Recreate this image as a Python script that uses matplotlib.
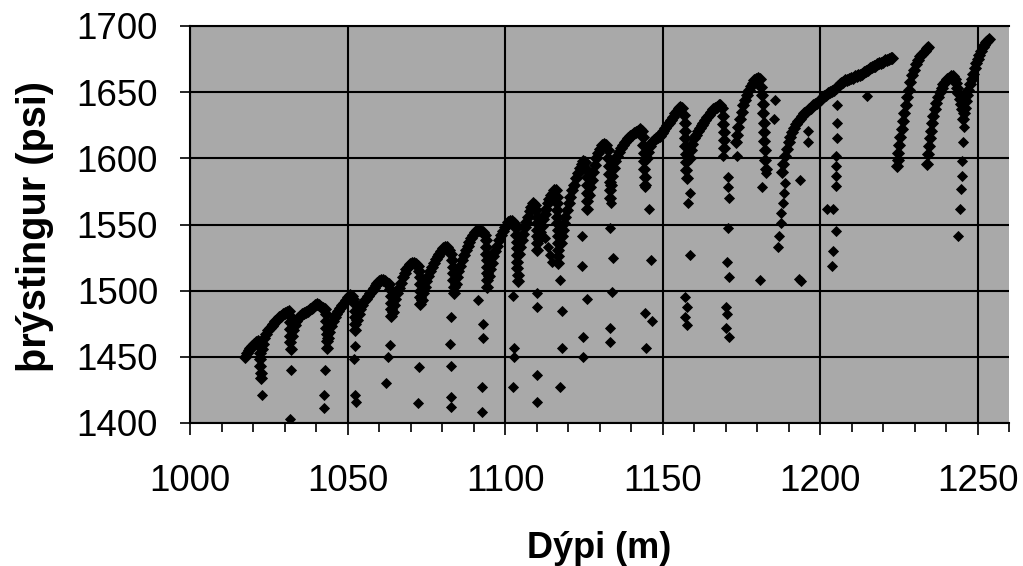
import matplotlib
matplotlib.use("Agg")
import matplotlib.pyplot as plt
from matplotlib.ticker import MultipleLocator

# Main pressure build-up trace (depth m, pressure psi)
trace_depth = [
    1017.5, 1018.0, 1018.6, 1019.2, 1019.8, 1020.4, 1021.0, 1021.5, 1022.0, 1022.1, 1022.2, 1022.3, 1022.4, 1022.5,
    1022.8, 1023.2, 1023.6, 1024.1, 1024.7, 1025.3, 1025.9, 1026.5, 1027.1, 1027.7, 1028.3, 1028.9, 1029.5, 1030.1, 1030.7, 1031.3, 1031.7, 1031.8, 1031.8, 1031.9, 1031.9, 1032.0,
    1032.3, 1032.7, 1033.2, 1033.8, 1034.4, 1035.0, 1035.6, 1036.2, 1036.8, 1037.4, 1038.0, 1038.6, 1039.2, 1039.8, 1040.4, 1041.0, 1041.6, 1042.2, 1042.8, 1043.2, 1043.3, 1043.3, 1043.4, 1043.4, 1043.5,
    1043.8, 1044.2, 1044.7, 1045.3, 1045.9, 1046.5, 1047.1, 1047.7, 1048.3, 1048.9, 1049.5, 1050.1, 1050.7, 1051.3, 1051.9, 1052.3, 1052.4, 1052.4, 1052.5, 1052.5,
    1053.0, 1053.5, 1054.1, 1054.7, 1055.3, 1055.9, 1056.5, 1057.1, 1057.7, 1058.3, 1058.9, 1059.5, 1060.1, 1060.7, 1061.3, 1061.9, 1062.5, 1063.1, 1063.6, 1063.7, 1063.8, 1063.8, 1063.9,
    1064.3, 1064.7, 1065.2, 1065.7, 1066.3, 1066.9, 1067.5, 1068.1, 1068.7, 1069.3, 1069.9, 1070.5, 1071.1, 1071.7, 1072.3, 1072.8, 1072.9, 1073.0, 1073.0, 1073.1, 1073.1,
    1073.6, 1074.0, 1074.5, 1075.0, 1075.6, 1076.2, 1076.8, 1077.4, 1078.0, 1078.6, 1079.2, 1079.8, 1080.4, 1081.0, 1081.6, 1082.2, 1082.8, 1083.2, 1083.4, 1083.5, 1083.6, 1083.7, 1083.8,
    1084.3, 1084.7, 1085.2, 1085.7, 1086.3, 1086.9, 1087.5, 1088.1, 1088.7, 1089.3, 1089.9, 1090.5, 1091.1, 1091.7, 1092.3, 1092.9, 1093.5, 1093.9, 1094.0, 1094.1, 1094.2, 1094.3, 1094.3, 1094.4, 1094.4,
    1094.9, 1095.3, 1095.8, 1096.3, 1096.9, 1097.5, 1098.1, 1098.7, 1099.3, 1099.9, 1100.5, 1101.1, 1101.7, 1102.3, 1102.9, 1103.4, 1103.6, 1103.7, 1103.8, 1103.8, 1103.9, 1103.9, 1104.0, 1104.0,
    1104.5, 1104.9, 1105.3, 1105.8, 1106.3, 1106.8, 1107.3, 1107.8, 1108.3, 1108.9, 1109.5, 1109.9, 1110.0, 1110.0, 1110.1, 1110.1, 1110.2, 1110.2,
    1110.7, 1111.1, 1111.6, 1112.1, 1112.6, 1113.1, 1113.6, 1114.1, 1114.6, 1115.1, 1115.6, 1116.1, 1116.4, 1116.5, 1116.5, 1116.6, 1116.6, 1116.7, 1116.7, 1116.8, 1116.8, 1116.9, 1116.9,
    1117.8, 1118.0, 1118.3, 1118.7, 1119.2, 1119.7, 1120.2, 1120.7, 1121.3, 1121.9, 1122.5, 1123.1, 1123.7, 1124.3, 1124.9, 1125.5, 1125.8, 1125.9, 1125.9, 1126.0, 1126.0, 1126.1,
    1126.6, 1127.0, 1127.5, 1128.0, 1128.5, 1129.0, 1129.6, 1130.2, 1130.8, 1131.4, 1132.0, 1132.6, 1132.8, 1133.0, 1133.1, 1133.2, 1133.3, 1133.4,
    1133.8, 1134.1, 1134.5, 1135.0, 1135.6, 1136.2, 1136.8, 1137.4, 1138.0, 1138.6, 1139.2, 1139.8, 1140.4, 1141.0, 1141.6, 1142.2, 1142.8, 1143.4, 1143.8, 1143.9, 1144.0, 1144.1, 1144.2, 1144.3, 1144.4,
    1145.0, 1145.5, 1146.1, 1146.7, 1147.3, 1147.9, 1148.5, 1149.1, 1149.7, 1150.3, 1150.9, 1151.5, 1152.1, 1152.7, 1153.3, 1153.9, 1154.5, 1155.1, 1155.7, 1156.3, 1156.8, 1157.0, 1157.1, 1157.2, 1157.3, 1157.4, 1157.5, 1157.6, 1157.8,
    1158.6, 1159.0, 1159.5, 1160.0, 1160.6, 1161.2, 1161.8, 1162.4, 1163.0, 1163.6, 1164.2, 1164.8, 1165.4, 1166.0, 1166.6, 1167.2, 1167.8, 1168.4, 1169.0, 1169.2, 1169.3, 1169.4, 1169.5, 1169.6,
    1173.3, 1173.7, 1174.1, 1174.6, 1175.1, 1175.6, 1176.2, 1176.8, 1177.4, 1178.0, 1178.6, 1179.2, 1179.8, 1180.4, 1181.0, 1181.4, 1181.6, 1181.8, 1182.0, 1182.1, 1182.2, 1182.3, 1182.5, 1182.6, 1182.8,
    1188.0, 1188.4, 1188.9, 1189.4, 1190.0, 1190.6, 1191.2, 1191.8, 1192.4, 1193.0, 1193.6, 1194.2, 1194.8, 1195.4, 1196.0, 1196.6, 1197.2, 1197.8, 1198.4, 1199.0,
    1199.6, 1200.2, 1200.8, 1201.4, 1202.0, 1202.6, 1203.2, 1203.8, 1204.4, 1205.0, 1205.6, 1206.2, 1206.8, 1207.4, 1208.0, 1208.6, 1209.2, 1209.8, 1210.4, 1211.0,
    1211.6, 1212.2, 1212.8, 1213.4, 1214.0, 1214.6, 1215.2, 1215.8, 1216.4, 1217.0, 1217.6, 1218.2, 1218.8, 1219.4, 1220.0, 1220.6, 1221.2, 1221.8, 1222.4, 1223.0,
    1224.6, 1224.7, 1224.9, 1225.1, 1225.5, 1225.9, 1226.3, 1226.7, 1227.2, 1227.7, 1228.2, 1228.7, 1229.3, 1229.9, 1230.5, 1231.1, 1231.8, 1232.5, 1233.2, 1233.9, 1234.4,
    1234.0, 1234.3, 1234.5, 1234.8, 1235.1, 1235.5, 1235.9, 1236.4, 1236.9, 1237.4, 1238.0, 1238.6, 1239.2, 1239.8, 1240.4, 1241.0, 1241.6, 1242.2, 1242.7, 1243.1, 1243.5, 1243.9, 1244.3, 1244.7, 1245.0,
    1245.3, 1245.6, 1245.9, 1246.3, 1246.7, 1247.1, 1247.6, 1248.1, 1248.6, 1249.1, 1249.6, 1250.1, 1250.6, 1251.1, 1251.6, 1252.1, 1252.6, 1253.1, 1253.6,
]
trace_psi = [
    1450, 1453, 1455, 1457, 1458, 1460, 1461, 1462, 1458, 1453, 1448, 1443, 1438, 1434,
    1456, 1460, 1464, 1467, 1470, 1472, 1473, 1475, 1477, 1478, 1480, 1481, 1482, 1483, 1484, 1485, 1481, 1476, 1471, 1466, 1461, 1456,
    1466, 1470, 1474, 1477, 1479, 1481, 1482, 1483, 1484, 1485, 1486, 1487, 1488, 1489, 1490, 1489, 1488, 1487, 1486, 1482, 1477, 1472, 1467, 1462, 1457,
    1464, 1469, 1473, 1477, 1480, 1482, 1485, 1487, 1489, 1491, 1493, 1495, 1497, 1496, 1494, 1490, 1485, 1480, 1475, 1470,
    1478, 1482, 1486, 1489, 1492, 1494, 1496, 1498, 1500, 1502, 1504, 1506, 1507, 1508, 1508, 1507, 1506, 1505, 1501, 1496, 1491, 1486, 1481,
    1484, 1489, 1494, 1498, 1502, 1506, 1510, 1513, 1516, 1518, 1520, 1521, 1521, 1520, 1519, 1515, 1510, 1505, 1500, 1495, 1490,
    1493, 1498, 1503, 1507, 1511, 1515, 1518, 1521, 1524, 1526, 1528, 1530, 1532, 1533, 1533, 1531, 1528, 1523, 1518, 1513, 1508, 1503, 1498,
    1505, 1510, 1515, 1519, 1523, 1527, 1531, 1534, 1537, 1540, 1542, 1544, 1546, 1546, 1545, 1544, 1542, 1538, 1533, 1528, 1523, 1518, 1513, 1508, 1503,
    1511, 1516, 1521, 1526, 1530, 1534, 1538, 1542, 1545, 1548, 1550, 1552, 1553, 1553, 1551, 1547, 1542, 1537, 1532, 1527, 1522, 1517, 1512, 1507,
    1528, 1533, 1538, 1543, 1548, 1552, 1556, 1560, 1563, 1566, 1565, 1561, 1556, 1551, 1546, 1541, 1536, 1531,
    1539, 1544, 1549, 1554, 1558, 1562, 1566, 1569, 1572, 1574, 1576, 1576, 1571, 1566, 1561, 1556, 1551, 1546, 1541, 1536, 1531, 1526, 1521,
    1536, 1541, 1546, 1551, 1556, 1561, 1566, 1571, 1576, 1580, 1585, 1589, 1593, 1596, 1598, 1597, 1592, 1586, 1580, 1574, 1568, 1562,
    1572, 1578, 1584, 1590, 1595, 1600, 1604, 1607, 1610, 1611, 1610, 1606, 1600, 1594, 1588, 1582, 1576, 1570,
    1580, 1587, 1593, 1598, 1602, 1605, 1608, 1610, 1612, 1614, 1615, 1617, 1618, 1619, 1620, 1621, 1622, 1621, 1616, 1610, 1604, 1598, 1592, 1586, 1580,
    1600, 1605, 1609, 1612, 1614, 1615, 1616, 1617, 1619, 1621, 1623, 1625, 1627, 1629, 1631, 1634, 1636, 1638, 1639, 1638, 1633, 1627, 1621, 1615, 1609, 1603, 1597, 1591, 1585,
    1600, 1606, 1611, 1615, 1618, 1621, 1623, 1625, 1627, 1629, 1631, 1633, 1635, 1637, 1638, 1639, 1640, 1640, 1638, 1632, 1626, 1620, 1614, 1608,
    1612, 1618, 1624, 1630, 1635, 1640, 1644, 1648, 1652, 1655, 1657, 1659, 1660, 1661, 1660, 1654, 1648, 1641, 1634, 1627, 1620, 1613, 1606, 1599, 1592,
    1590, 1596, 1602, 1607, 1612, 1616, 1620, 1623, 1626, 1628, 1630, 1632, 1634, 1635, 1636, 1637, 1638, 1640, 1641, 1642,
    1643, 1645, 1646, 1647, 1648, 1649, 1650, 1651, 1652, 1653, 1655, 1656, 1657, 1658, 1659, 1659, 1660, 1661, 1661, 1662,
    1662, 1663, 1663, 1664, 1665, 1666, 1667, 1668, 1669, 1670, 1670, 1671, 1672, 1672, 1673, 1674, 1674, 1675, 1676, 1676,
    1594, 1599, 1604, 1610, 1616, 1622, 1628, 1634, 1640, 1646, 1652, 1658, 1663, 1667, 1671, 1674, 1677, 1679, 1681, 1683, 1684,
    1596, 1603, 1609, 1615, 1621, 1627, 1632, 1637, 1642, 1646, 1650, 1653, 1656, 1658, 1660, 1661, 1662, 1662, 1660, 1657, 1653, 1649, 1645, 1641, 1637,
    1630, 1634, 1638, 1643, 1648, 1652, 1656, 1660, 1664, 1668, 1672, 1675, 1678, 1681, 1684, 1686, 1688, 1689, 1690,
]

# Scattered readings taken around pipe connections
conn_depth = [
    1022.7, 1032.0, 1031.6, 1042.8, 1042.6, 1042.6,
    1052.3, 1052.0, 1052.3, 1052.6, 1063.6, 1062.8, 1062.3,
    1072.6, 1072.3, 1083.0, 1082.6, 1083.0, 1082.9, 1083.0,
    1091.4, 1092.9, 1092.9, 1092.6, 1092.6, 1102.5, 1102.9, 1102.9, 1102.5,
    1110.2, 1110.2, 1110.2, 1110.2, 1112.8, 1113.6, 1114.3, 1115.0,
    1117.4, 1118.0, 1118.0, 1117.4, 1124.5, 1124.5, 1126.0, 1124.8, 1124.8,
    1133.5, 1133.3, 1134.3, 1133.9, 1133.3, 1133.3,
    1144.6, 1145.6, 1146.2, 1144.5, 1146.6, 1144.7,
    1158.8, 1158.2, 1158.8, 1157.2, 1157.8, 1157.2, 1157.8,
    1169.2, 1173.5, 1170.7, 1170.9, 1171.2, 1170.7, 1170.5, 1171.2, 1170.1, 1170.5, 1170.1, 1171.2,
    1185.8, 1185.4, 1182.9, 1181.5, 1181.0,
    1189.0, 1188.5, 1188.1, 1187.6, 1187.5, 1187.0, 1186.6,
    1193.5, 1196.3, 1196.3, 1193.4, 1194.0,
    1205.5, 1205.5, 1205.5, 1205.2, 1205.2, 1205.2, 1205.2, 1202.3, 1204.2, 1205.2, 1204.2, 1203.9,
    1215.0,
    1245.8, 1245.5, 1245.0, 1245.0, 1244.8, 1244.6, 1243.8,
]
conn_psi = [
    1421, 1440, 1403, 1440, 1421, 1411,
    1458, 1448, 1421, 1416, 1459, 1450, 1430,
    1442, 1415, 1480, 1460, 1443, 1420, 1412,
    1493, 1475, 1464, 1427, 1408, 1496, 1457, 1450, 1427,
    1498, 1488, 1436, 1416, 1540, 1533, 1527, 1522,
    1508, 1485, 1457, 1427, 1541, 1519, 1494, 1465, 1450,
    1566, 1547, 1525, 1499, 1472, 1461,
    1578, 1562, 1523, 1483, 1477, 1457,
    1574, 1566, 1527, 1495, 1488, 1480, 1474,
    1602, 1602, 1586, 1578, 1570, 1547, 1522, 1510, 1488, 1482, 1472, 1465,
    1644, 1630, 1589, 1578, 1508,
    1581, 1574, 1566, 1559, 1551, 1541, 1533,
    1584, 1621, 1612, 1509, 1507,
    1640, 1627, 1615, 1602, 1594, 1587, 1579, 1562, 1562, 1545, 1530, 1519,
    1647,
    1624, 1612, 1598, 1587, 1577, 1562, 1541,
]

x_ticks = [1000, 1050, 1100, 1150, 1200, 1250]
y_ticks = [1400, 1450, 1500, 1550, 1600, 1650, 1700]
x_label = "Dýpi (m)"
y_label = "þrýstingur (psi)"

plt.rcParams['font.family'] = ['Liberation Sans', 'DejaVu Sans']

W, H = 1023, 566
fig = plt.figure(figsize=(W / 100, H / 100), dpi=100)
ax = fig.add_axes([190 / W, 1 - 423 / H, (1009 - 190) / W, (423 - 26) / H])
ax.set_facecolor('#a9a9a9')

ax.plot(trace_depth, trace_psi, ls='none', marker='D', ms=6.0, color='black', mew=0.6, mec='black')
ax.plot(conn_depth, conn_psi, ls='none', marker='D', ms=5.6, color='black', mew=0.6, mec='black')

ax.set_xlim(1000, 1260)
ax.set_ylim(1400, 1700)
ax.set_xticks(x_ticks)
ax.set_yticks(y_ticks)
ax.xaxis.set_minor_locator(MultipleLocator(10))
ax.grid(True, which='major', color='black', linewidth=1.5)
ax.set_axisbelow(True)

ax.tick_params(axis='x', which='major', length=8.5, width=1.2, direction='out', pad=21, labelsize=26.5)
ax.tick_params(axis='x', which='minor', length=6.5, width=1.2, direction='out')
ax.tick_params(axis='y', which='major', length=7, width=1.2, direction='out', pad=16, labelsize=26.5)

ax.spines['right'].set_visible(False)
for s in ['left', 'bottom', 'top']:
    ax.spines[s].set_linewidth(1.5)

ax.set_xlabel(x_label, fontsize=26, fontweight='bold', va='center')
ax.xaxis.set_label_coords(599.5 / W, 1 - 548 / H, transform=fig.transFigure)
ax.set_ylabel(y_label, fontsize=28.5, fontweight='bold', va='center')
ax.yaxis.set_label_coords(35 / W, 1 - 227 / H, transform=fig.transFigure)

fig.savefig('out.png', dpi=100)
